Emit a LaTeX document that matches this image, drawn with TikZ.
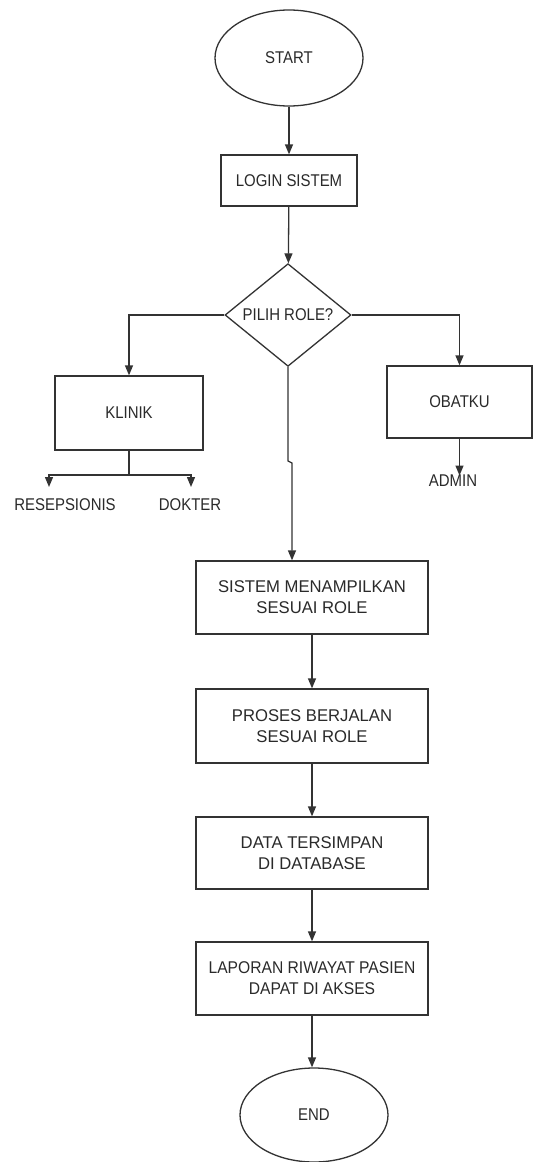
\documentclass[tikz,border=0pt]{standalone}
\usepackage{fontspec}
\setmainfont{Liberation Sans}
\newfontfamily\narrowfont[FakeStretch=0.88]{Liberation Sans}
\newfontfamily\midfont[FakeStretch=0.92]{Liberation Sans}
\newfontfamily\widefont[FakeStretch=0.98]{Liberation Sans}
\usetikzlibrary{shapes.geometric,arrows.meta}
\definecolor{linec}{HTML}{333333}
\definecolor{txt}{HTML}{2A2A2A}
\begin{document}
\begin{tikzpicture}[x=1pt,y=-1pt,line width=1.3pt,
  box/.style={draw=linec, rectangle, inner sep=0pt, align=center, text=txt, font=\narrowfont\fontsize{17}{21}\selectfont},
  bigbox/.style={box, minimum width=232pt, font=\widefont\fontsize{17}{21}\selectfont},
  term/.style={draw=linec, ellipse, inner sep=0pt, text=txt, font=\narrowfont\fontsize{17}{20}\selectfont, minimum width=148pt},
  dec/.style={draw=linec, diamond, inner sep=0pt, text=txt, font=\narrowfont\fontsize{17}{20}\selectfont},
  lbl/.style={inner sep=0pt, text=txt, font=\narrowfont\fontsize{17}{20}\selectfont},
  arr/.style={draw=linec, -{Triangle[width=8pt,length=10pt]}},
  ln/.style={draw=linec}]
\useasboundingbox (0,0) rectangle (533,1162);
\fill[white] (0,0) rectangle (533,1162);

\node[term, minimum height=96pt] (start) at (289,58) {START};
\node[box, minimum width=136pt, minimum height=51pt] (login) at (289,180.5) {LOGIN SISTEM};
\node[dec, minimum width=126pt, minimum height=100pt] (role) at (288,315) {PILIH ROLE?};
\node[box, minimum width=148pt, minimum height=74pt] (klinik) at (129,413) {KLINIK};
\node[box, minimum width=145pt, minimum height=72pt] (obat) at (459.5,402) {OBATKU};
\node[lbl] (resep) at (65,505) {RESEPSIONIS};
\node[lbl] (dokter) at (190,505) {DOKTER};
\node[lbl] (admin) at (453,481) {ADMIN};

\node[bigbox, minimum height=73pt] (sistem) at (312,597.5) {SISTEM MENAMPILKAN\\SESUAI ROLE};
\node[bigbox, minimum height=74pt] (proses) at (312,726) {PROSES BERJALAN\\SESUAI ROLE};
\node[bigbox, minimum height=72pt] (data) at (312,853) {DATA TERSIMPAN\\DI DATABASE};
\node[bigbox, minimum height=73pt, font=\midfont\fontsize{17}{21}\selectfont] (lapor) at (312,978.5) {LAPORAN RIWAYAT PASIEN\\DAPAT DI AKSES};
\node[term, minimum height=94pt] (end) at (314,1115) {END};

\coordinate (kj) at (129,475);
\coordinate (ka) at (49,487);
\coordinate (kb) at (191,487);
\coordinate (j1) at (288,461);
\coordinate (j2) at (292,463);

\draw[arr] (start) -- (login);
\draw[arr] (login) -- (role);
\draw[arr] (role.west) -| (klinik.north);
\draw[arr] (role.east) -| (obat.north);
\draw[ln] (klinik.south) -- (kj);
\draw[arr] (kj) -| (ka);
\draw[arr] (kj) -| (kb);
\draw[arr] (obat.south) -- ([yshift=-1pt]obat.south |- admin.north);
\draw[arr] (role.south) -- (j1) -- (j2) -- (j2 |- sistem.north);
\draw[arr] (sistem) -- (proses);
\draw[arr] (proses) -- (data);
\draw[arr] (data) -- (lapor);
\draw[arr] (lapor.south) -- (lapor.south |- end.north);
\end{tikzpicture}
\end{document}
